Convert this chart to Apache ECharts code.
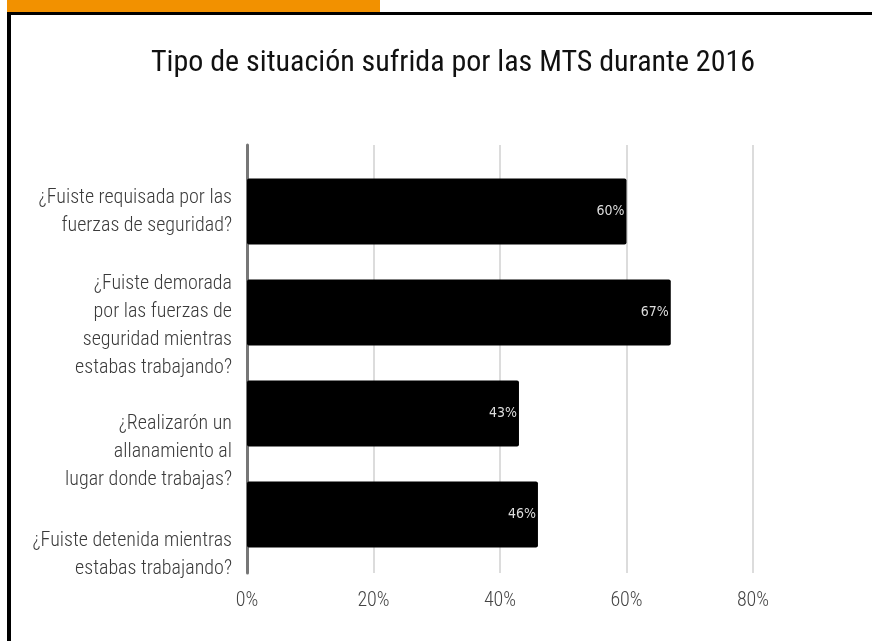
<!DOCTYPE html>
<html>
<head>
<meta charset="utf-8">
<script src="https://cdn.jsdelivr.net/npm/echarts@6/dist/echarts.min.js"></script>
<style>
  html, body { margin: 0; padding: 0; background: #fff; }
  #chart { width: 872px; height: 641px; }
</style>
</head>
<body>
<div id="chart"></div>
<script>
var chartTitle = 'Tipo de situación sufrida por las MTS durante 2016';
var preguntas = [
    '¿Fuiste requisada por las\nfuerzas de seguridad?',
    '¿Fuiste demorada\npor las fuerzas de\nseguridad mientras\nestabas trabajando?',
    '¿Realizarón un\nallanamiento al\nlugar donde trabajas?',
    '¿Fuiste detenida mientras\nestabas trabajando?'
];
var porcentajes = [60, 67, 43, 46];
// the question labels in the original sit lower than their bars (spacer height, px)
var espacioEtiqueta = [0, 26, 77, 80];

var narrow = '"Roboto Condensed", "Liberation Sans Narrow", sans-serif';

var richEtiquetas = {};
espacioEtiqueta.forEach(function (h, i) {
    richEtiquetas['s' + i] = { lineHeight: h, fontSize: 1 };
});

var chartDom = document.getElementById('chart');
var chart = echarts.init(chartDom);

var options = {
    animation: false,
    title: {
        text: chartTitle,
        left: 146,
        top: 43,
        textStyle: {
            fontFamily: narrow,
            fontSize: 30,
            fontWeight: 'normal',
            color: '#111'
        }
    },
    graphic: [
        { type: 'rect', shape: { x: 7, y: 0, width: 373, height: 12 }, style: { fill: '#f29100' } },
        { type: 'rect', shape: { x: 7, y: 12, width: 865, height: 3 }, style: { fill: '#000' } },
        { type: 'rect', shape: { x: 7, y: 12, width: 4, height: 629 }, style: { fill: '#000' } }
    ],
    // grid 0: gridlines, axis line and % labels; grid 1: bars and questions
    grid: [
        { left: 247, right: 119, top: 145, bottom: 68 },
        { left: 247, right: 119, top: 161, bottom: 76 }
    ],
    xAxis: [
        {
            gridIndex: 0,
            type: 'value',
            min: 0,
            max: 80,
            interval: 20,
            axisLine: { show: false },
            axisTick: { show: false },
            splitLine: { lineStyle: { color: '#dcdcdc', width: 2 } },
            axisLabel: {
                formatter: '{value}%',
                margin: 18,
                fontFamily: narrow,
                fontWeight: 300,
                fontSize: 20,
                color: '#444'
            }
        },
        {
            gridIndex: 1,
            type: 'value',
            min: 0,
            max: 80,
            show: false
        }
    ],
    yAxis: [
        {
            gridIndex: 0,
            type: 'value',
            min: 0,
            max: 1,
            axisLine: { show: true, lineStyle: { color: '#777', width: 3 } },
            axisTick: { show: false },
            axisLabel: { show: false },
            splitLine: { show: false }
        },
        {
            gridIndex: 1,
            type: 'category',
            data: preguntas,
            inverse: true,
            axisLine: { show: false },
            axisTick: { show: false },
            axisLabel: {
                interval: 0,
                margin: 15,
                align: 'right',
                fontFamily: narrow,
                fontWeight: 300,
                fontSize: 20,
                lineHeight: 28,
                color: '#3a3a3a',
                rich: richEtiquetas,
                formatter: function (value, index) {
                    if (!espacioEtiqueta[index]) return value;
                    return '{s' + index + '| }\n' + value;
                }
            }
        }
    ],
    series: [
        {
            type: 'bar',
            xAxisIndex: 1,
            yAxisIndex: 1,
            data: porcentajes,
            barWidth: 66,
            itemStyle: { color: '#000', borderRadius: 2 },
            label: {
                show: true,
                position: 'insideRight',
                offset: [3, 0],
                formatter: '{c}%',
                fontFamily: '"DejaVu Sans Condensed", "DejaVu Sans", sans-serif',
                fontSize: 14,
                color: '#dddddd'
            }
        }
    ]
};

chart.setOption(options);
</script>
</body>
</html>
